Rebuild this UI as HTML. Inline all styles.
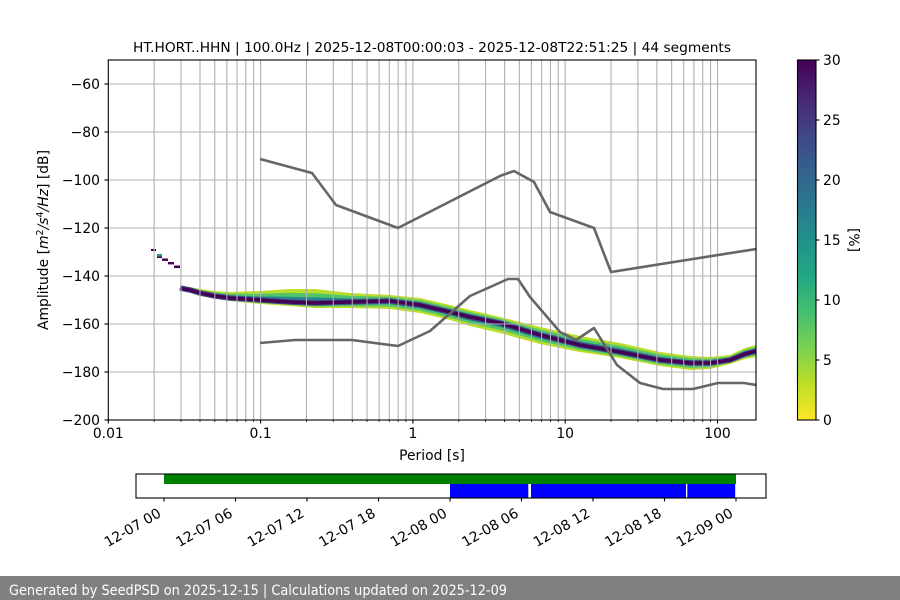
<!DOCTYPE html>
<html><head><meta charset="utf-8"><style>
html,body{margin:0;padding:0;background:#fff;}
svg{display:block;}
text{font-family:"DejaVu Sans","Liberation Sans",sans-serif;fill:#000;}
</style></head><body>
<svg width="900" height="600" viewBox="0 0 900 600" xmlns="http://www.w3.org/2000/svg">
<defs>
<linearGradient id="vir" x1="0" y1="0" x2="0" y2="1">
<stop offset="0" stop-color="#440154"/><stop offset="0.1" stop-color="#482475"/><stop offset="0.2" stop-color="#414487"/><stop offset="0.3" stop-color="#355f8d"/><stop offset="0.4" stop-color="#2a788e"/><stop offset="0.5" stop-color="#21918c"/><stop offset="0.6" stop-color="#22a884"/><stop offset="0.7" stop-color="#44bf70"/><stop offset="0.8" stop-color="#7ad151"/><stop offset="0.9" stop-color="#bddf26"/><stop offset="1" stop-color="#fde725"/>
</linearGradient>
<clipPath id="ax"><rect x="108.3" y="60" width="647.7" height="360"/></clipPath>
</defs>
<rect width="900" height="600" fill="#fff"/>

<!-- Title -->
<text x="432" y="52" font-size="13.2" text-anchor="middle" textLength="598" lengthAdjust="spacingAndGlyphs">HT.HORT..HHN | 100.0Hz | 2025-12-08T00:00:03 - 2025-12-08T22:51:25 | 44 segments</text>

<g clip-path="url(#ax)">
<!-- histogram band -->
<polygon fill="#b8de29" points="180,286 190,287 200,289 215,291 230,292 260,291 290,289 315,289 350,293 390,295 420,298 450,305 470,310 500,317 540,327 580,336 620,343 660,352 690,356 710,357 730,355 745,348 756,345 756,357 745,359 730,364 710,369 690,370 660,366 620,358 580,352 540,344 500,333 470,326 450,320 420,313 390,309 350,308 315,308 290,306 260,304 230,301 215,298 200,296 190,292 180,290"/>
<polygon fill="#52c569" points="180,286.6 190,287.9 200,290.2 215,292.5 230,293.8 260,293.7 290,292.9 315,293.2 350,295.7 390,296.8 420,300.1 450,307.1 470,312.1 500,318.8 540,329.4 580,338.7 620,345.7 660,354.4 690,358.1 710,358.8 730,356.5 745,349.8 756,346.8 756,355.2 745,357.5 730,362.8 710,367.2 690,367.9 660,364.2 620,356.2 580,349.9 540,341.3 500,330 470,323.3 450,317.6 420,310.6 390,306.6 350,306.2 315,306.5 290,304.8 260,302.8 230,300.1 215,297.4 200,295.1 190,291.4 180,289.4"/>
<polygon fill="#23898e" points="180,287.2 190,288.8 200,291.4 215,294 230,295.6 260,296.4 290,296.8 315,297.4 350,298.4 390,298.6 420,302.2 450,309.2 470,314.2 500,320.6 540,331.8 580,341.4 620,348.4 660,356.8 690,360.2 710,360.6 730,358 745,351.6 756,348.6 756,353.4 745,356 730,361.6 710,365.4 690,365.8 660,362.4 620,354.4 580,347.8 540,338.6 500,327 470,320.6 450,315.2 420,308.2 390,304.2 350,304.4 315,305 290,303.6 260,301.6 230,299.2 215,296.8 200,294.2 190,290.8 180,288.8"/>
<polyline fill="none" stroke="#3e4a89" stroke-width="5.5" points="180,288 190,290 200,293 215,296 230,298 260,300 290,302 315,303 350,302 390,301 420,305 450,312 470,317 500,323 540,335 580,345 620,352 660,360 690,363 710,363 730,360 745,354 756,351"/>
<polyline fill="none" stroke="#440154" stroke-width="3.4" points="180,288 190,290 200,293 215,296 230,298 260,300 290,302 315,303 350,302 390,301 420,305 450,312 470,317 500,323 540,335 580,345 620,352 660,360 690,363 710,363 730,360 745,354 756,351"/>
<rect x="151" y="249" width="5" height="2" fill="#440154"/>
<rect x="157" y="254" width="5" height="2.4" fill="#21918c"/>
<rect x="157" y="256.4" width="5" height="1.6" fill="#440154"/>
<rect x="162" y="258.5" width="6" height="2.4" fill="#440154"/>
<rect x="168" y="262" width="6" height="2.4" fill="#440154"/>
<rect x="174" y="265.5" width="6" height="2.6" fill="#440154"/>

<!-- grid -->
<g stroke="#b0b0b0" stroke-width="1.1">
<line x1="108.3" y1="84" x2="756" y2="84"/><line x1="108.3" y1="132" x2="756" y2="132"/><line x1="108.3" y1="180" x2="756" y2="180"/><line x1="108.3" y1="228" x2="756" y2="228"/><line x1="108.3" y1="276" x2="756" y2="276"/><line x1="108.3" y1="324" x2="756" y2="324"/><line x1="108.3" y1="372" x2="756" y2="372"/>
<line x1="154.15" y1="60" x2="154.15" y2="420"/><line x1="180.97" y1="60" x2="180.97" y2="420"/><line x1="199.99" y1="60" x2="199.99" y2="420"/><line x1="214.75" y1="60" x2="214.75" y2="420"/><line x1="226.81" y1="60" x2="226.81" y2="420"/><line x1="237.01" y1="60" x2="237.01" y2="420"/><line x1="245.84" y1="60" x2="245.84" y2="420"/><line x1="253.63" y1="60" x2="253.63" y2="420"/>
<line x1="260.6" y1="60" x2="260.6" y2="420"/><line x1="306.45" y1="60" x2="306.45" y2="420"/><line x1="333.27" y1="60" x2="333.27" y2="420"/><line x1="352.29" y1="60" x2="352.29" y2="420"/><line x1="367.05" y1="60" x2="367.05" y2="420"/><line x1="379.11" y1="60" x2="379.11" y2="420"/><line x1="389.31" y1="60" x2="389.31" y2="420"/><line x1="398.14" y1="60" x2="398.14" y2="420"/><line x1="405.93" y1="60" x2="405.93" y2="420"/>
<line x1="412.9" y1="60" x2="412.9" y2="420"/><line x1="458.75" y1="60" x2="458.75" y2="420"/><line x1="485.57" y1="60" x2="485.57" y2="420"/><line x1="504.59" y1="60" x2="504.59" y2="420"/><line x1="519.35" y1="60" x2="519.35" y2="420"/><line x1="531.41" y1="60" x2="531.41" y2="420"/><line x1="541.61" y1="60" x2="541.61" y2="420"/><line x1="550.44" y1="60" x2="550.44" y2="420"/><line x1="558.23" y1="60" x2="558.23" y2="420"/>
<line x1="565.2" y1="60" x2="565.2" y2="420"/><line x1="611.05" y1="60" x2="611.05" y2="420"/><line x1="637.87" y1="60" x2="637.87" y2="420"/><line x1="656.89" y1="60" x2="656.89" y2="420"/><line x1="671.65" y1="60" x2="671.65" y2="420"/><line x1="683.71" y1="60" x2="683.71" y2="420"/><line x1="693.91" y1="60" x2="693.91" y2="420"/><line x1="702.74" y1="60" x2="702.74" y2="420"/><line x1="710.53" y1="60" x2="710.53" y2="420"/>
<line x1="717.5" y1="60" x2="717.5" y2="420"/>
</g>

<!-- noise models -->
<polyline fill="none" stroke="#666" stroke-width="2.6" stroke-linejoin="round" points="260,159 312,173 336,205 398,228 500,176 514,171 534,182 550,212 594,228 611,272 756,249"/>
<polyline fill="none" stroke="#666" stroke-width="2.6" stroke-linejoin="round" points="260,343 295,340 352,340 398,346 430,331 470,296 508,279 518,279 530,297 560,332 576,340 594,328 617,365 640,383 663,389 693,389 718,383 744,383 756,385"/>
</g>

<!-- axes frame -->
<rect x="108.3" y="60" width="647.7" height="360" fill="none" stroke="#000" stroke-width="1.1"/>
<!-- y ticks -->
<g stroke="#000" stroke-width="1.1">
<line x1="104.5" y1="84" x2="108.3" y2="84"/><line x1="104.5" y1="132" x2="108.3" y2="132"/><line x1="104.5" y1="180" x2="108.3" y2="180"/><line x1="104.5" y1="228" x2="108.3" y2="228"/><line x1="104.5" y1="276" x2="108.3" y2="276"/><line x1="104.5" y1="324" x2="108.3" y2="324"/><line x1="104.5" y1="372" x2="108.3" y2="372"/><line x1="104.5" y1="420" x2="108.3" y2="420"/>
<line x1="108.3" y1="420" x2="108.3" y2="423.5"/><line x1="260.6" y1="420" x2="260.6" y2="423.5"/><line x1="412.9" y1="420" x2="412.9" y2="423.5"/><line x1="565.2" y1="420" x2="565.2" y2="423.5"/><line x1="717.5" y1="420" x2="717.5" y2="423.5"/>
</g>
<g stroke="#000" stroke-width="0.8">
<line x1="154.15" y1="420" x2="154.15" y2="422"/><line x1="180.97" y1="420" x2="180.97" y2="422"/><line x1="199.99" y1="420" x2="199.99" y2="422"/><line x1="214.75" y1="420" x2="214.75" y2="422"/><line x1="226.81" y1="420" x2="226.81" y2="422"/><line x1="237.01" y1="420" x2="237.01" y2="422"/><line x1="245.84" y1="420" x2="245.84" y2="422"/><line x1="253.63" y1="420" x2="253.63" y2="422"/>
<line x1="306.45" y1="420" x2="306.45" y2="422"/><line x1="333.27" y1="420" x2="333.27" y2="422"/><line x1="352.29" y1="420" x2="352.29" y2="422"/><line x1="367.05" y1="420" x2="367.05" y2="422"/><line x1="379.11" y1="420" x2="379.11" y2="422"/><line x1="389.31" y1="420" x2="389.31" y2="422"/><line x1="398.14" y1="420" x2="398.14" y2="422"/><line x1="405.93" y1="420" x2="405.93" y2="422"/>
<line x1="458.75" y1="420" x2="458.75" y2="422"/><line x1="485.57" y1="420" x2="485.57" y2="422"/><line x1="504.59" y1="420" x2="504.59" y2="422"/><line x1="519.35" y1="420" x2="519.35" y2="422"/><line x1="531.41" y1="420" x2="531.41" y2="422"/><line x1="541.61" y1="420" x2="541.61" y2="422"/><line x1="550.44" y1="420" x2="550.44" y2="422"/><line x1="558.23" y1="420" x2="558.23" y2="422"/>
<line x1="611.05" y1="420" x2="611.05" y2="422"/><line x1="637.87" y1="420" x2="637.87" y2="422"/><line x1="656.89" y1="420" x2="656.89" y2="422"/><line x1="671.65" y1="420" x2="671.65" y2="422"/><line x1="683.71" y1="420" x2="683.71" y2="422"/><line x1="693.91" y1="420" x2="693.91" y2="422"/><line x1="702.74" y1="420" x2="702.74" y2="422"/><line x1="710.53" y1="420" x2="710.53" y2="422"/>
</g>
<g font-size="13.9" text-anchor="end">
<text x="100" y="89">−60</text><text x="100" y="137">−80</text><text x="100" y="185">−100</text><text x="100" y="233">−120</text><text x="100" y="281">−140</text><text x="100" y="329">−160</text><text x="100" y="377">−180</text><text x="100" y="425">−200</text>
</g>
<g font-size="13.9" text-anchor="middle">
<text x="108.3" y="438">0.01</text><text x="260.6" y="438">0.1</text><text x="412.9" y="438">1</text><text x="565.2" y="438">10</text><text x="717.5" y="438">100</text>
<text x="432" y="460">Period [s]</text>
</g>
<text transform="translate(48,240) rotate(-90)" font-size="13.9" text-anchor="middle">Amplitude [<tspan font-style="italic">m</tspan><tspan font-size="9.5" dy="-5">2</tspan><tspan dy="5" font-style="italic">/s</tspan><tspan font-size="9.5" dy="-5">4</tspan><tspan dy="5" font-style="italic">/Hz</tspan>] [dB]</text>

<!-- colorbar -->
<rect x="797.5" y="60" width="18.5" height="360" fill="url(#vir)" stroke="#000" stroke-width="1.1"/>
<g stroke="#000" stroke-width="1.1">
<line x1="816" y1="60" x2="819.5" y2="60"/><line x1="816" y1="120" x2="819.5" y2="120"/><line x1="816" y1="180" x2="819.5" y2="180"/><line x1="816" y1="240" x2="819.5" y2="240"/><line x1="816" y1="300" x2="819.5" y2="300"/><line x1="816" y1="360" x2="819.5" y2="360"/><line x1="816" y1="420" x2="819.5" y2="420"/>
</g>
<g font-size="13.9">
<text x="823" y="65">30</text><text x="823" y="125">25</text><text x="823" y="185">20</text><text x="823" y="245">15</text><text x="823" y="305">10</text><text x="823" y="365">5</text><text x="823" y="425">0</text>
</g>
<text transform="translate(849,240) rotate(90)" font-size="13.9" text-anchor="middle">[%]</text>

<!-- timeline -->
<rect x="164" y="474.5" width="572" height="9.5" fill="#008000"/>
<rect x="450" y="484" width="78.3" height="13.5" fill="#0000ff"/>
<rect x="531" y="484" width="155" height="13.5" fill="#0000ff"/>
<rect x="687.3" y="484" width="47.9" height="13.5" fill="#0000ff"/>
<rect x="136" y="474" width="630" height="24" fill="none" stroke="#000" stroke-width="1.1"/>
<g stroke="#000" stroke-width="1.1">
<line x1="164" y1="498" x2="164" y2="501.5"/><line x1="235.5" y1="498" x2="235.5" y2="501.5"/><line x1="307" y1="498" x2="307" y2="501.5"/><line x1="378.5" y1="498" x2="378.5" y2="501.5"/><line x1="450" y1="498" x2="450" y2="501.5"/><line x1="521.5" y1="498" x2="521.5" y2="501.5"/><line x1="593" y1="498" x2="593" y2="501.5"/><line x1="664.5" y1="498" x2="664.5" y2="501.5"/><line x1="736" y1="498" x2="736" y2="501.5"/>
</g>
<g font-size="13.9" text-anchor="end">
<text transform="translate(162,516) rotate(-30)">12-07 00</text>
<text transform="translate(233.5,516) rotate(-30)">12-07 06</text>
<text transform="translate(305,516) rotate(-30)">12-07 12</text>
<text transform="translate(376.5,516) rotate(-30)">12-07 18</text>
<text transform="translate(448,516) rotate(-30)">12-08 00</text>
<text transform="translate(519.5,516) rotate(-30)">12-08 06</text>
<text transform="translate(591,516) rotate(-30)">12-08 12</text>
<text transform="translate(662.5,516) rotate(-30)">12-08 18</text>
<text transform="translate(734,516) rotate(-30)">12-09 00</text>
</g>

<!-- footer -->
<rect x="0" y="576" width="900" height="24" fill="#808080"/>
<text x="9" y="595" font-size="14" fill="#fff" style="fill:#fff" textLength="498" lengthAdjust="spacingAndGlyphs">Generated by SeedPSD on 2025-12-15 | Calculations updated on 2025-12-09</text>
</svg>
</body></html>
